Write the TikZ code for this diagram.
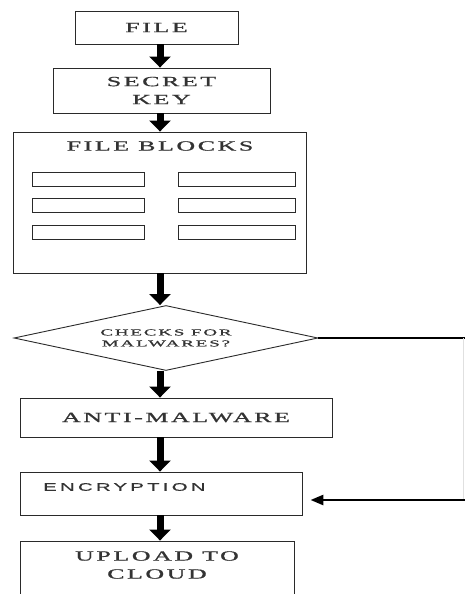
\documentclass[tikz,border=0pt]{standalone}
\usepackage{fontspec}
\usepackage{graphicx}
\usetikzlibrary{shapes.geometric,arrows.meta}
\newfontfamily\wserif[LetterSpace=10,FakeBold=0.8]{Liberation Serif}
\newfontfamily\wsans[LetterSpace=16,FakeBold=0.6]{Liberation Sans}
\newcommand{\wst}[1]{\scalebox{1.85}[1]{#1}}
\definecolor{txt}{HTML}{333333}
\definecolor{edge}{HTML}{2A2A2A}
\tikzset{
  box/.style={draw=edge, line width=0.9pt, rectangle, inner sep=0pt, text=txt, align=center, font=\wserif\fontsize{14}{18}\selectfont},
  cell/.style={draw=edge, line width=0.9pt, rectangle, inner sep=0pt, minimum height=14pt},
  bigarrow/.style={line width=7pt, -{Triangle[width=21pt,length=11pt]}, black},
  thinarrow/.style={line width=2.6pt, -{Triangle[width=10pt,length=13pt]}, black},
  plain/.style={text=txt, inner sep=0pt},
}
\begin{document}
\begin{tikzpicture}[x=1pt,y=-1pt]
\useasboundingbox (0,0) rectangle (465,594);
\clip (0,0) rectangle (465,594);
\node[box, minimum width=163pt, minimum height=33pt] (file) at (156.5,27.5) {\wst{FILE}};
\node[box, minimum width=217pt, minimum height=45pt] (key) at (161.5,90.5) {\wst{SECRET}\\\wst{KEY}};
\node[box, minimum width=293pt, minimum height=141pt] (blocks) at (159.5,202.5) {};
\node[plain, font=\wserif\fontsize{14}{16}\selectfont] (btitle) at (160,146) {\wst{FILE BLOCKS}};
\node[cell, minimum width=112pt] (b1) at (88,179) {};
\node[cell, minimum width=117pt] (b2) at (236.5,179) {};
\node[cell, minimum width=112pt] (b3) at (88,205.5) {};
\node[cell, minimum width=117pt] (b4) at (236.5,205.5) {};
\node[cell, minimum width=112pt] (b5) at (88,232.5) {};
\node[cell, minimum width=117pt] (b6) at (236.5,232.5) {};
\node[draw=edge, line width=0.9pt, diamond, aspect=4.7, minimum width=304pt, minimum height=65pt, inner sep=0pt, text=txt, align=center, font=\wserif\fontsize{9}{11}\selectfont] (dia) at (166,338) {\scalebox{2.1}[1]{CHECKS FOR}\\\scalebox{2.1}[1]{MALWARES?}};
\node[box, minimum width=312pt, minimum height=39pt] (anti) at (176,417.5) {\wst{ANTI-MALWARE}};
\node[box, minimum width=282pt, minimum height=43pt] (enc) at (161,493.5) {};
\node[plain, anchor=west, font=\wsans\fontsize{11}{12}\selectfont] (enctext) at (43,487) {\scalebox{1.85}[1]{ENCRYPTION}};
\node[box, minimum width=274pt, minimum height=70pt] (up) at (157,576) {};
\node[plain, align=center, font=\wserif\fontsize{14}{18}\selectfont] (uptext) at (157,565) {\wst{UPLOAD TO}\\\wst{CLOUD}};
\coordinate (r1) at (463,338);
\coordinate (r2) at (463,500);
\draw[bigarrow] (file.south -| 160,0) -- (key.north -| 160,0);
\draw[bigarrow] (key.south -| 160,0) -- (blocks.north -| 160,0);
\draw[bigarrow] (blocks.south -| 160,0) -- (dia.north -| 160,0);
\draw[bigarrow] (dia.south -| 160,0) -- (anti.north -| 160,0);
\draw[bigarrow] (anti.south -| 160,0) -- (enc.north -| 160,0);
\draw[bigarrow] (enc.south -| 160,0) -- (up.north -| 160,0);
\draw[line width=2.6pt, black] (dia.east) -- (r1 -| 470,0);
\draw[line width=0.5pt, black!12] (r1) -- (r2);
\draw[thinarrow, shorten >=8pt] (r2 -| 470,0) -- (enc.east |- r2);
\end{tikzpicture}
\end{document}
